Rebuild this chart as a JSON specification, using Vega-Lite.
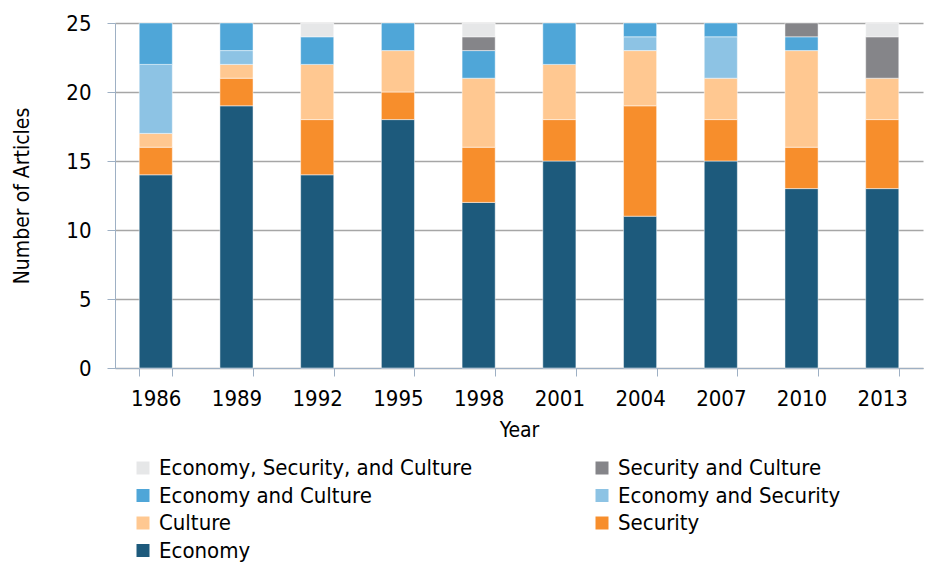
{
  "$schema": "https://vega.github.io/schema/vega-lite/v6.json",
  "width": 808,
  "height": 345,
  "autosize": {"type": "none"},
  "padding": {"left": 115, "top": 23, "right": 4, "bottom": 195},
  "background": "white",
  "config": {
    "view": {"stroke": null},
    "font": "DejaVu Sans Condensed, Liberation Sans, sans-serif"
  },
  "data": {
    "values": [
      {"Year": "1986", "Category": "Economy", "Articles": 14},
      {"Year": "1986", "Category": "Security", "Articles": 2},
      {"Year": "1986", "Category": "Culture", "Articles": 1},
      {"Year": "1986", "Category": "Economy and Security", "Articles": 5},
      {"Year": "1986", "Category": "Economy and Culture", "Articles": 3},
      {"Year": "1989", "Category": "Economy", "Articles": 19},
      {"Year": "1989", "Category": "Security", "Articles": 2},
      {"Year": "1989", "Category": "Culture", "Articles": 1},
      {"Year": "1989", "Category": "Economy and Security", "Articles": 1},
      {"Year": "1989", "Category": "Economy and Culture", "Articles": 2},
      {"Year": "1992", "Category": "Economy", "Articles": 14},
      {"Year": "1992", "Category": "Security", "Articles": 4},
      {"Year": "1992", "Category": "Culture", "Articles": 4},
      {"Year": "1992", "Category": "Economy and Culture", "Articles": 2},
      {"Year": "1992", "Category": "Economy, Security, and Culture", "Articles": 1},
      {"Year": "1995", "Category": "Economy", "Articles": 18},
      {"Year": "1995", "Category": "Security", "Articles": 2},
      {"Year": "1995", "Category": "Culture", "Articles": 3},
      {"Year": "1995", "Category": "Economy and Culture", "Articles": 2},
      {"Year": "1998", "Category": "Economy", "Articles": 12},
      {"Year": "1998", "Category": "Security", "Articles": 4},
      {"Year": "1998", "Category": "Culture", "Articles": 5},
      {"Year": "1998", "Category": "Economy and Culture", "Articles": 2},
      {"Year": "1998", "Category": "Security and Culture", "Articles": 1},
      {"Year": "1998", "Category": "Economy, Security, and Culture", "Articles": 1},
      {"Year": "2001", "Category": "Economy", "Articles": 15},
      {"Year": "2001", "Category": "Security", "Articles": 3},
      {"Year": "2001", "Category": "Culture", "Articles": 4},
      {"Year": "2001", "Category": "Economy and Culture", "Articles": 3},
      {"Year": "2004", "Category": "Economy", "Articles": 11},
      {"Year": "2004", "Category": "Security", "Articles": 8},
      {"Year": "2004", "Category": "Culture", "Articles": 4},
      {"Year": "2004", "Category": "Economy and Security", "Articles": 1},
      {"Year": "2004", "Category": "Economy and Culture", "Articles": 1},
      {"Year": "2007", "Category": "Economy", "Articles": 15},
      {"Year": "2007", "Category": "Security", "Articles": 3},
      {"Year": "2007", "Category": "Culture", "Articles": 3},
      {"Year": "2007", "Category": "Economy and Security", "Articles": 3},
      {"Year": "2007", "Category": "Economy and Culture", "Articles": 1},
      {"Year": "2010", "Category": "Economy", "Articles": 13},
      {"Year": "2010", "Category": "Security", "Articles": 3},
      {"Year": "2010", "Category": "Culture", "Articles": 7},
      {"Year": "2010", "Category": "Economy and Culture", "Articles": 1},
      {"Year": "2010", "Category": "Security and Culture", "Articles": 1},
      {"Year": "2013", "Category": "Economy", "Articles": 13},
      {"Year": "2013", "Category": "Security", "Articles": 5},
      {"Year": "2013", "Category": "Culture", "Articles": 3},
      {"Year": "2013", "Category": "Security and Culture", "Articles": 3},
      {"Year": "2013", "Category": "Economy, Security, and Culture", "Articles": 1}
    ]
  },
  "transform": [
    {"calculate": "indexof(['Economy', 'Security', 'Culture', 'Economy and Security', 'Economy and Culture', 'Security and Culture', 'Economy, Security, and Culture'], datum.Category)", "as": "stackOrder"}
  ],
  "mark": {"type": "bar", "stroke": "#ffffff", "strokeWidth": 0.8, "strokeOpacity": 0.6},
  "encoding": {
    "x": {
      "field": "Year",
      "type": "ordinal",
      "scale": {"paddingInner": 0.59, "paddingOuter": 0.3},
      "axis": {
        "title": "Year",
        "titleFontSize": 21,
        "titleFontWeight": "normal",
        "titleColor": "#000000",
        "titlePadding": 10,
        "labelFontSize": 22,
        "labelColor": "#000000",
        "labelAngle": 0,
        "labelPadding": 12,
        "domainColor": "#9EB0C4",
        "tickColor": "#9EB0C4",
        "tickBand": "extent",
        "tickSize": 8
      }
    },
    "y": {
      "field": "Articles",
      "type": "quantitative",
      "aggregate": "sum",
      "stack": "zero",
      "scale": {"domain": [0, 25], "nice": false},
      "axis": {
        "title": "Number of Articles",
        "values": [0, 5, 10, 15, 20, 25],
        "titleFontSize": 21,
        "titleFontWeight": "normal",
        "titleColor": "#000000",
        "titlePadding": 33,
        "labelFontSize": 22,
        "labelColor": "#000000",
        "labelPadding": 16,
        "domainColor": "#9EB0C4",
        "tickColor": "#9EB0C4",
        "tickSize": 8,
        "gridColor": "#A6A6A6",
        "gridWidth": 1.3
      }
    },
    "order": {"field": "stackOrder", "type": "quantitative", "sort": "ascending"},
    "color": {
      "field": "Category",
      "type": "nominal",
      "scale": {
        "domain": ["Economy, Security, and Culture", "Economy and Culture", "Culture", "Economy", "Security and Culture", "Economy and Security", "Security"],
        "range": ["#E6E7E8", "#4FA6D8", "#FFC891", "#1D5A7C", "#858589", "#8DC3E4", "#F78E2C"]
      },
      "legend": {
        "title": null,
        "orient": "none",
        "legendX": 17,
        "legendY": 434,
        "columns": 2,
        "columnPadding": 118,
        "rowPadding": 5.5,
        "symbolType": "square",
        "symbolSize": 169,
        "symbolStrokeWidth": 0,
        "labelFontSize": 22,
        "labelColor": "#000000",
        "labelOffset": 5,
        "labelLimit": 400
      }
    }
  }
}
